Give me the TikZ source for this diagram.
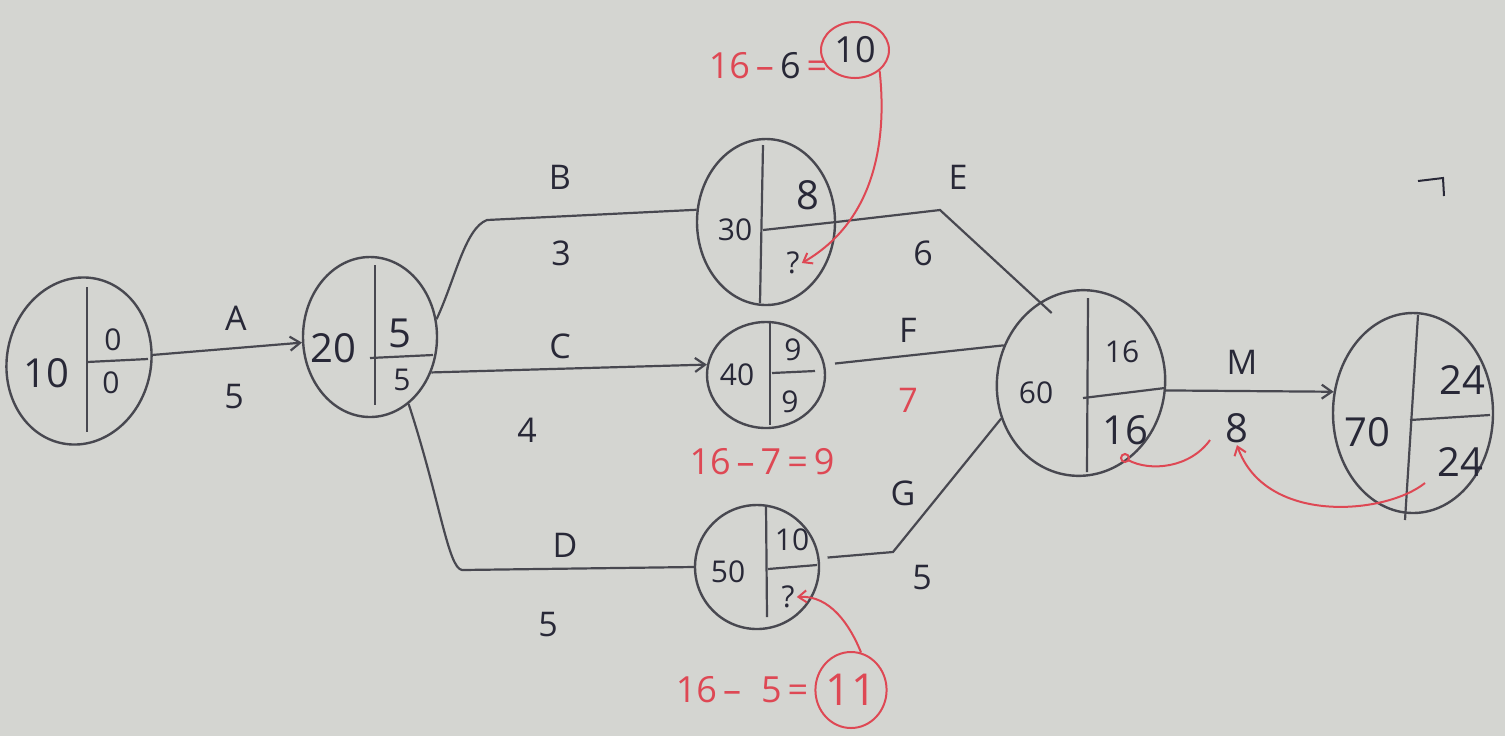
\documentclass[tikz,border=0pt]{standalone}
\usepackage{fontspec}
\setmainfont{Open Sans}
\usetikzlibrary{shapes.geometric,arrows.meta,calc}
\definecolor{board}{RGB}{212,213,209}
\definecolor{ink}{RGB}{40,40,55}
\definecolor{pen}{RGB}{72,72,80}
\definecolor{marker}{RGB}{222,72,84}
\begin{document}
\begin{tikzpicture}[x=0.5pt,y=-0.5pt,
  evt/.style={ellipse, draw=pen, line width=1.2pt, inner sep=0pt},
  divl/.style={draw=pen, line width=1.1pt},
  conn/.style={draw=pen, line width=1.1pt},
  arr/.style={conn, -{Straight Barb[length=5pt,width=7pt]}},
  num/.style={font=\fontsize{20}{20}\selectfont, text=ink, inner sep=1pt},
  snum/.style={font=\fontsize{15}{15}\selectfont, text=ink, inner sep=1pt},
  lab/.style={font=\fontsize{17}{17}\selectfont, text=ink, inner sep=1pt},
  rtxt/.style={font=\fontsize{18}{18}\selectfont, text=marker, inner sep=1pt},
  rline/.style={draw=marker, line width=1pt},
  rarr/.style={rline, -{Straight Barb[length=4pt,width=6pt]}},
]
\fill[board] (0,0) rectangle (1505,736);
\useasboundingbox (0,0) rectangle (1505,736);

% ---------- events ----------
\node[evt, minimum width=72pt, minimum height=84pt, rotate=-12] (n10) at (79,361) {};
\draw[divl] (87,287) -- (87,432);
\draw[divl] (87,362) -- (148,359);
\node[num] (t10) at (46,373) {10};
\node[snum] (e10) at (113,340) {0};
\node[snum] (l10) at (111,383) {0};

\node[evt, minimum width=67pt, minimum height=80pt] (n20) at (370,337) {};
\draw[divl] (375,265) -- (375,405);
\draw[divl] (370,358) -- (433,355);
\node[num] (t20) at (333,348) {20};
\node[num] (e20) at (400,333) {5};
\node[snum] (l20) at (402,380) {5};

\node[evt, minimum width=69pt, minimum height=83pt] (n30) at (766,222) {};
\draw[divl] (763,145) -- (760,303);
\node[snum] (t30) at (735,230) {30};
\node[num] (e30) at (808,195) {8};
\node[snum] (q30) at (793,263) {?};

\node[evt, minimum width=59pt, minimum height=53pt] (n40) at (766,375) {};
\draw[divl] (770,322) -- (770,425);
\draw[divl] (772,373) -- (815,371);
\node[snum] (t40) at (737,375) {40};
\node[snum] (e40) at (793,350) {9};
\node[snum] (l40) at (790,402) {9};

\node[evt, minimum width=62pt, minimum height=62pt] (n50) at (757,567) {};
\draw[divl] (766,505) -- (767,617);
\draw[divl] (768,569) -- (817,565);
\node[snum] (t50) at (728,572) {50};
\node[snum] (e50) at (792,540) {10};
\node[snum] (q50) at (788,597) {?};

\node[evt, minimum width=84pt, minimum height=93pt, rotate=-8] (n60) at (1081,383) {};
\draw[divl] (1088,298) -- (1087,472);
\draw[divl] (1083,398) -- (1165,388);
\node[snum] (t60) at (1036,393) {60};
\node[snum] (e60) at (1122,352) {16};
\node[num] (l60) at (1125,430) {16};

\node[evt, minimum width=80pt, minimum height=100pt] (n70) at (1413,413) {};
\draw[divl] (1418,315) -- (1405,520);
\draw[divl] (1410,420) -- (1490,415);
\node[num] (t70) at (1367,432) {70};
\node[num] (e70) at (1462,380) {24};
\node[num] (l70) at (1460,462) {24};

% ---------- activities ----------
\draw[arr] (n10) -- (n20);
\node[lab] (lA) at (236,318) {A};
\node[lab] (dA) at (234,397) {5};

\coordinate (kB) at (487,220);
\draw[conn] (n20.15) .. controls (455,280) and (465,228) .. (kB) -- (n30.170);
\node[lab] (lB) at (560,177) {B};
\node[lab] (dB) at (561,253) {3};

\draw[arr] (n20.-30) -- (n40.170);
\node[lab] (lC) at (560,346) {C};
\node[lab] (dC) at (527,430) {4};

\coordinate (kD) at (462,570);
\draw[conn] (n20.-60) .. controls (440,500) and (448,568) .. (kD) -- (n50.180);
\node[lab] (lD) at (565,545) {D};
\node[lab] (dD) at (548,625) {5};

\coordinate (kE) at (940,210);
\draw[conn] (763,230) -- (n30.east) -- (kE) -- (n60.125);
\draw[conn] (n60.125) -- ($(n60.125)!-0.12!(kE)$);
\node[lab] (lE) at (958,177) {E};
\node[lab] (dE) at (923,253) {6};

\draw[conn, shorten <=5pt] (n40.10) -- (n60.162);
\node[lab] (lF) at (908,330) {F};
\node[lab, text=marker] (dF) at (908,400) {7};

\coordinate (kG) at (893,552);
\draw[conn, shorten <=4pt] (n50.8) -- (kG) -- (n60.212);
\node[lab] (lG) at (903,493) {G};
\node[lab] (dG) at (922,578) {5};

\draw[arr] (n60.3) -- (n70.165);
\node[lab] (lM) at (1242,362) {M};
\node[num] (dM) at (1237,428) {8};

% ---------- red working ----------
\node[rtxt] (calc30) at (768,66) {16\,\textendash\,{\color{ink}6}\,=};
\node[evt, draw=marker, line width=1pt, minimum width=34pt, minimum height=28pt, font=\fontsize{18}{18}\selectfont, text=ink] (c10) at (855,50) {10};
\draw[rarr] (c10.-40) .. controls (885,120) and (885,215) .. (q30.east);

\node[rtxt] (calc40) at (762,462) {16\,\textendash\,7\,=\,9};

\node[rtxt] (calc50) at (742,690) {16\,\textendash\;\;5\,=};
\node[evt, draw=marker, line width=1pt, minimum width=33pt, minimum height=38pt, font=\fontsize{22}{22}\selectfont, text=marker] (c11) at (851,690) {11};
\draw[rarr] (c11.75) .. controls (850,625) and (830,595) .. (q50.east);

\coordinate (r1) at (1210,440);
\coordinate (r1e) at (1128,460);
\draw[rline] (r1) .. controls (1190,468) and (1150,472) .. (r1e);
\draw[rline] (1125,458) circle (4);

\coordinate (r2) at (1425,483);
\draw[rarr] (r2) .. controls (1385,515) and (1265,525) .. (dM.south);

% stray mark
\draw[draw=ink, line width=1pt] (1418,181) -- (1443,178) -- (1444,196);
\end{tikzpicture}
\end{document}
